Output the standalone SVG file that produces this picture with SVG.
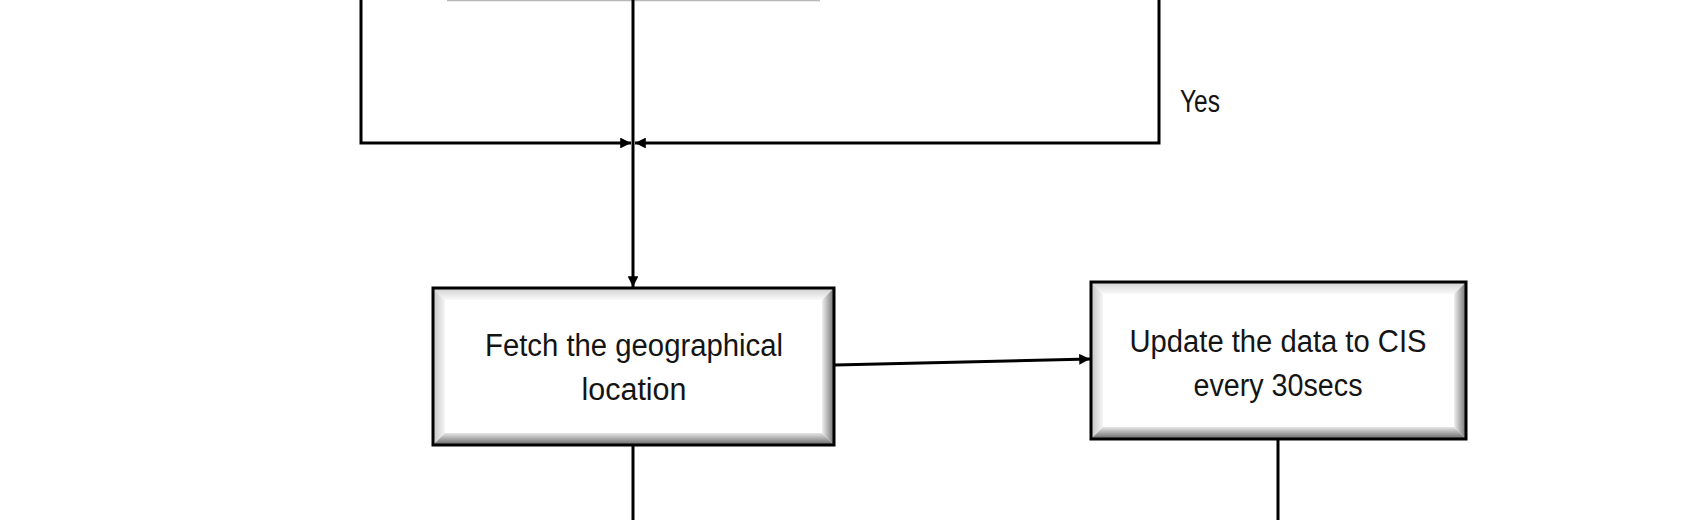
<svg xmlns="http://www.w3.org/2000/svg" width="1681" height="520" viewBox="0 0 1681 520">
  <style>
    .conn { stroke: #000; stroke-width: 3; fill: none; }
    .frame { fill: none; stroke: #000; stroke-width: 3; }
    .face { fill: #ffffff; }
    .lbl { font-family: "Liberation Sans", Arial, sans-serif; font-size: 31px; fill: #141414; text-anchor: middle; }
  </style>
  <defs>
    <marker id="arr" viewBox="0 0 10 10" refX="10" refY="5" markerWidth="3.6" markerHeight="3.6" orient="auto" markerUnits="strokeWidth">
      <path d="M0,0 L10,5 L0,10 z" fill="#000"/>
    </marker>
    <linearGradient id="gTop" x1="0" y1="0" x2="0" y2="1">
      <stop offset="0" stop-color="#d0d0d0"/>
      <stop offset="1" stop-color="#fafafa"/>
    </linearGradient>
    <linearGradient id="gLeft" x1="0" y1="0" x2="1" y2="0">
      <stop offset="0" stop-color="#c4c4c4"/>
      <stop offset="1" stop-color="#f6f6f6"/>
    </linearGradient>
    <linearGradient id="gRight" x1="0" y1="0" x2="1" y2="0">
      <stop offset="0" stop-color="#f0f0f0"/>
      <stop offset="1" stop-color="#727272"/>
    </linearGradient>
    <linearGradient id="gBottom" x1="0" y1="0" x2="0" y2="1">
      <stop offset="0" stop-color="#e6e6e6"/>
      <stop offset="1" stop-color="#666666"/>
    </linearGradient>
  </defs>

  <!-- partial box at top edge -->
  <line x1="447" y1="0.5" x2="820" y2="0.5" stroke="#b8b8b8" stroke-width="1.5"/>

  <g id="connectors">
    <polyline class="conn" points="361,0 361,143 631,143" marker-end="url(#arr)"/>
    <polyline class="conn" points="1159,0 1159,143 635,143" marker-end="url(#arr)"/>
    <line class="conn" x1="633" y1="0" x2="633" y2="143"/>
    <line class="conn" x1="633" y1="143" x2="633" y2="287" marker-end="url(#arr)"/>
    <line class="conn" x1="835" y1="365" x2="1090" y2="359" marker-end="url(#arr)"/>
    <line class="conn" x1="633" y1="445" x2="633" y2="520"/>
    <line class="conn" x1="1278" y1="439" x2="1278" y2="520"/>
  </g>

  <g id="label-yes">
    <text class="lbl" x="1200" y="112" textLength="40" lengthAdjust="spacingAndGlyphs">Yes</text>
  </g>

  <g id="node-fetch">
    <rect class="face" x="433" y="288" width="401" height="157"/>
    <polygon fill="url(#gTop)" points="433,288 834,288 822,300 445,300"/>
    <polygon fill="url(#gLeft)" points="433,288 445,300 445,433 433,445"/>
    <polygon fill="url(#gRight)" points="834,288 834,445 822,433 822,300"/>
    <polygon fill="url(#gBottom)" points="433,445 445,433 822,433 834,445"/>
    <rect class="frame" x="433" y="288" width="401" height="157"/>
    <text class="lbl" x="634" y="356" textLength="298" lengthAdjust="spacingAndGlyphs">Fetch the geographical</text>
    <text class="lbl" x="634" y="400" textLength="105" lengthAdjust="spacingAndGlyphs">location</text>
  </g>

  <g id="node-update">
    <rect class="face" x="1091" y="282" width="375" height="157"/>
    <polygon fill="url(#gTop)" points="1091,282 1466,282 1454,294 1103,294"/>
    <polygon fill="url(#gLeft)" points="1091,282 1103,294 1103,427 1091,439"/>
    <polygon fill="url(#gRight)" points="1466,282 1466,439 1454,427 1454,294"/>
    <polygon fill="url(#gBottom)" points="1091,439 1103,427 1454,427 1466,439"/>
    <rect class="frame" x="1091" y="282" width="375" height="157"/>
    <text class="lbl" x="1278" y="352" textLength="297" lengthAdjust="spacingAndGlyphs">Update the data to CIS</text>
    <text class="lbl" x="1278" y="396" textLength="169" lengthAdjust="spacingAndGlyphs">every 30secs</text>
  </g>
</svg>
